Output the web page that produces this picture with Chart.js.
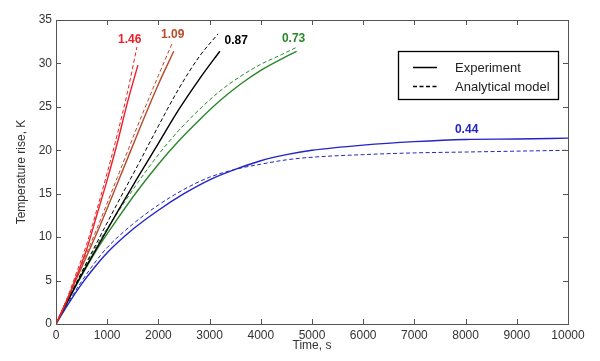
<!DOCTYPE html>
<html>
<head>
<meta charset="utf-8">
<script src="https://cdn.jsdelivr.net/npm/chart.js@4"></script>
<style>
  html, body { margin: 0; padding: 0; background: #fff; }
  #wrap { width: 600px; height: 361px; }
</style>
</head>
<body>
<div id="wrap"><canvas id="chart"></canvas></div>
<script>
// time (s) and temperature rise (K)
const redT = [0, 200, 400, 600, 800, 1000, 1200, 1400, 1600];
const redExp = [0, 2.5, 5.5, 8.6, 12.6, 16.6, 20.9, 25.6, 29.8];
const redModelT = [0, 200, 400, 600, 800, 1000, 1200, 1400, 1580];
const redModel = [0, 2.7, 5.9, 9.2, 13.2, 17.4, 21.9, 26.8, 31.9];

const brownT = [0, 400, 800, 1200, 1600, 2000, 2300];
const brownExp = [0, 5.2, 10.5, 16.2, 22.0, 27.6, 31.4];
const brownModelT = [0, 400, 800, 1200, 1600, 2000, 2275];
const brownModel = [0, 5.4, 11.0, 16.9, 22.9, 28.6, 32.4];

const blackT = [0, 400, 800, 1200, 1600, 2000, 2400, 2800, 3200];
const blackExp = [0, 4.6, 8.8, 12.9, 16.9, 20.8, 24.7, 28.2, 31.4];
const blackModelT = [0, 400, 800, 1200, 1600, 2000, 2400, 2800, 3164];
const blackModel = [0, 4.8, 9.4, 13.9, 18.3, 22.8, 27.1, 30.8, 33.4];

const greenT = [0, 400, 800, 1200, 1600, 2000, 2400, 2800, 3200, 3600, 4000, 4400, 4700];
const greenExp = [0, 4.5, 8.6, 12.1, 15.4, 18.4, 21.1, 23.5, 25.7, 27.6, 29.2, 30.5, 31.4];
const greenModelT = [0, 400, 800, 1200, 1600, 2000, 2400, 2800, 3200, 3600, 4000, 4400, 4680];
const greenModel = [0, 4.7, 9.1, 12.8, 16.3, 19.5, 22.3, 24.7, 26.8, 28.5, 29.9, 31.0, 31.8];

const blueT = [0, 250, 500, 750, 1000, 1500, 2000, 2500, 3000, 3500, 4000, 4500, 5000, 6000, 7000, 8000, 9000, 10000];
const blueExp = [0, 2.4, 4.6, 6.5, 8.2, 10.9, 13.1, 15.0, 16.6, 17.8, 18.8, 19.5, 20.0, 20.6, 21.0, 21.25, 21.3, 21.4];
const blueModel = [0, 2.6, 4.9, 7.0, 8.8, 11.5, 13.7, 15.5, 16.9, 17.8, 18.4, 18.9, 19.2, 19.5, 19.7, 19.8, 19.9, 20.0];

const curveLabels = ['1.46', '1.09', '0.87', '0.73', '0.44'];
const labelX = [1440, 2280, 3520, 4640, 8020];
const labelY = [32.7, 33.3, 32.6, 32.9, 22.4];
const colors = ['#f01e28', '#b9492b', '#000000', '#2a862a', '#2323c8'];

const xTicks = [0, 1000, 2000, 3000, 4000, 5000, 6000, 7000, 8000, 9000, 10000];
const yTicks = [0, 5, 10, 15, 20, 25, 30, 35];

const FONT = '"Liberation Sans", Arial, sans-serif';

function pts(xs, ys) {
    return xs.map((x, i) => ({ x: x, y: ys[i] }));
}

function solid(data, color) {
    return { data: data, borderColor: color, borderWidth: 1.4, pointRadius: 0, cubicInterpolationMode: 'monotone', fill: false };
}
function dashed(data, color) {
    return { data: data, borderColor: color, borderWidth: 1, borderDash: [4, 2.5], pointRadius: 0, cubicInterpolationMode: 'monotone', fill: false };
}

// frame, inward ticks, curve labels and the boxed legend
const matlabLook = {
    id: 'matlabLook',
    afterDraw(chart) {
        const ctx = chart.ctx;
        const a = chart.chartArea;
        const xs = chart.scales.x, ys = chart.scales.y;
        ctx.save();
        ctx.strokeStyle = '#555';
        ctx.lineWidth = 1;
        ctx.strokeRect(a.left + 0.5, a.top + 0.5, a.right - a.left, a.bottom - a.top);
        ctx.beginPath();
        xTicks.forEach(v => {
            const px = Math.round(xs.getPixelForValue(v)) + 0.5;
            ctx.moveTo(px, a.bottom); ctx.lineTo(px, a.bottom - 5);
            ctx.moveTo(px, a.top); ctx.lineTo(px, a.top + 5);
        });
        yTicks.forEach(v => {
            const py = Math.round(ys.getPixelForValue(v)) + 0.5;
            ctx.moveTo(a.left, py); ctx.lineTo(a.left + 5, py);
            ctx.moveTo(a.right, py); ctx.lineTo(a.right - 5, py);
        });
        ctx.stroke();

        ctx.font = 'bold 12px ' + FONT;
        ctx.textAlign = 'center';
        ctx.textBaseline = 'middle';
        curveLabels.forEach((t, i) => {
            ctx.fillStyle = colors[i];
            ctx.fillText(t, xs.getPixelForValue(labelX[i]), ys.getPixelForValue(labelY[i]));
        });

        // legend
        const bx = 398, by = 51, bw = 160, bh = 48;
        ctx.fillStyle = '#fff';
        ctx.fillRect(bx, by, bw, bh);
        ctx.strokeStyle = '#000';
        ctx.lineWidth = 1.3;
        ctx.strokeRect(bx + 0.5, by + 0.5, bw, bh);
        ctx.lineWidth = 1.5;
        ctx.beginPath(); ctx.moveTo(413, 67.5); ctx.lineTo(437, 67.5); ctx.stroke();
        ctx.setLineDash([4, 2.5]);
        ctx.beginPath(); ctx.moveTo(413, 86.5); ctx.lineTo(437, 86.5); ctx.stroke();
        ctx.setLineDash([]);
        ctx.fillStyle = '#222';
        ctx.font = '13px ' + FONT;
        ctx.textAlign = 'left';
        ctx.fillText('Experiment', 455, 68);
        ctx.fillText('Analytical model', 455, 87);
        ctx.restore();
    }
};

new Chart(document.getElementById('chart'), {
    type: 'line',
    data: {
        datasets: [
            solid(pts(redT, redExp), colors[0]),
            dashed(pts(redModelT, redModel), colors[0]),
            solid(pts(brownT, brownExp), colors[1]),
            dashed(pts(brownModelT, brownModel), colors[1]),
            solid(pts(blackT, blackExp), colors[2]),
            dashed(pts(blackModelT, blackModel), colors[2]),
            solid(pts(greenT, greenExp), colors[3]),
            dashed(pts(greenModelT, greenModel), colors[3]),
            solid(pts(blueT, blueExp), colors[4]),
            dashed(pts(blueT, blueModel), colors[4])
        ]
    },
    options: {
        responsive: true,
        maintainAspectRatio: false,
        animation: false,
        layout: { padding: { top: 20, right: 32, left: 14, bottom: 8 } },
        plugins: { legend: { display: false }, tooltip: { enabled: false } },
        scales: {
            x: {
                type: 'linear',
                min: 0, max: 10000,
                afterBuildTicks: s => { s.ticks = xTicks.map(v => ({ value: v })); },
                afterFit: s => { s.height = 29; },
                grid: { display: false, drawTicks: false },
                border: { display: false },
                ticks: { color: '#333', font: { family: FONT, size: 12 }, padding: 4, maxRotation: 0, callback: v => String(v) },
                title: { display: true, text: 'Time, s', color: '#333', font: { family: FONT, size: 12 }, padding: { top: 0, bottom: 0 } }
            },
            y: {
                min: 0, max: 35,
                afterBuildTicks: s => { s.ticks = yTicks.map(v => ({ value: v })); },
                afterFit: s => { s.width = 42; },
                grid: { display: false, drawTicks: false },
                border: { display: false },
                ticks: { color: '#333', font: { family: FONT, size: 12 }, padding: 4, callback: v => String(v) },
                title: { display: true, text: 'Temperature rise, K', color: '#333', font: { family: FONT, size: 12 }, padding: { top: 0, bottom: 0 } }
            }
        }
    },
    plugins: [matlabLook]
});
</script>
</body>
</html>
